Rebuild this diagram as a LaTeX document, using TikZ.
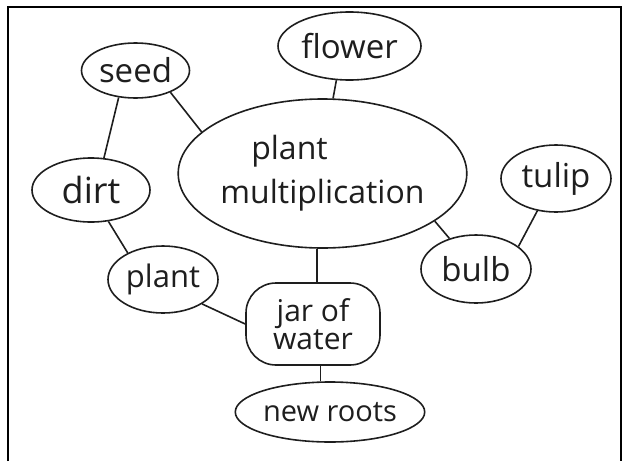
\documentclass[tikz,border=0pt]{standalone}
\usepackage{fontspec}
\setmainfont{Open Sans}
\usetikzlibrary{shapes.geometric}
\definecolor{ink}{RGB}{30,30,30}
\tikzset{
  bub/.style={draw=ink, line width=1.6pt, ellipse, inner sep=0pt, text=ink},
  rbox/.style={draw=ink, line width=1.6pt, rectangle, rounded corners=30pt, inner sep=0pt, text=ink},
  link/.style={draw=ink, line width=1.6pt},
  frame/.style={draw=black, line width=1.5pt},
  hw/.style={font=\fontsize{33}{40}\selectfont}
}
\begin{document}
\begin{tikzpicture}[x=1pt,y=-1pt]
\useasboundingbox (0,0) rectangle (629,461);
\coordinate (f1) at (8,461);
\coordinate (f2) at (8,7);
\coordinate (f3) at (621,7);
\coordinate (f4) at (621,461);
\draw[frame] (f1) -- (f2) -- (f3) -- (f4);

\node[bub, minimum width=108pt, minimum height=55pt, hw] (seed) at (135.5,70.5) {seed};
\node[bub, minimum width=143pt, minimum height=68pt, hw] (flower) at (349.5,46) {flower};
\node[bub, minimum width=281pt, minimum height=149pt, align=center, font=\fontsize{32}{44}\selectfont] (pm) at (322.5,173.5) {plant\hspace*{66pt}\\multiplication};
\node[bub, minimum width=110pt, minimum height=67pt, hw] (tulip) at (556,178.5) {tulip};
\node[bub, minimum width=118pt, minimum height=64pt, font=\fontsize{36}{40}\selectfont] (dirt) at (91,190) {dirt};
\node[bub, minimum width=110pt, minimum height=67pt, font=\fontsize{31}{36}\selectfont] (plant) at (163,279.5) {plant};
\node[bub, minimum width=110pt, minimum height=68pt, hw] (bulb) at (476,269) {bulb};
\node[rbox, minimum width=134pt, minimum height=82pt, align=center, font=\fontsize{30}{28}\selectfont] (jar) at (313,324) {jar of\\water};
\node[bub, minimum width=174pt, minimum height=60pt, font=\fontsize{29}{34}\selectfont] (nr) at (330,412) {new roots};

\draw[link] (seed.-32) -- (pm.161);
\draw[link] (seed.-122) -- (dirt.68);
\draw[link] (flower.-111) -- (pm.82);
\draw[link] (dirt.-61) -- (plant.143);
\draw[link] (pm.-94) -- (pm.-94 |- jar.north);
\draw[link] (pm.-23) -- (bulb.131);
\draw[link] (tulip.-120) -- (bulb.28);
\draw[link] (plant.-32) -- (jar.west);
\draw[link] (nr.107) -- (nr.107 |- jar.south);
\end{tikzpicture}
\end{document}
